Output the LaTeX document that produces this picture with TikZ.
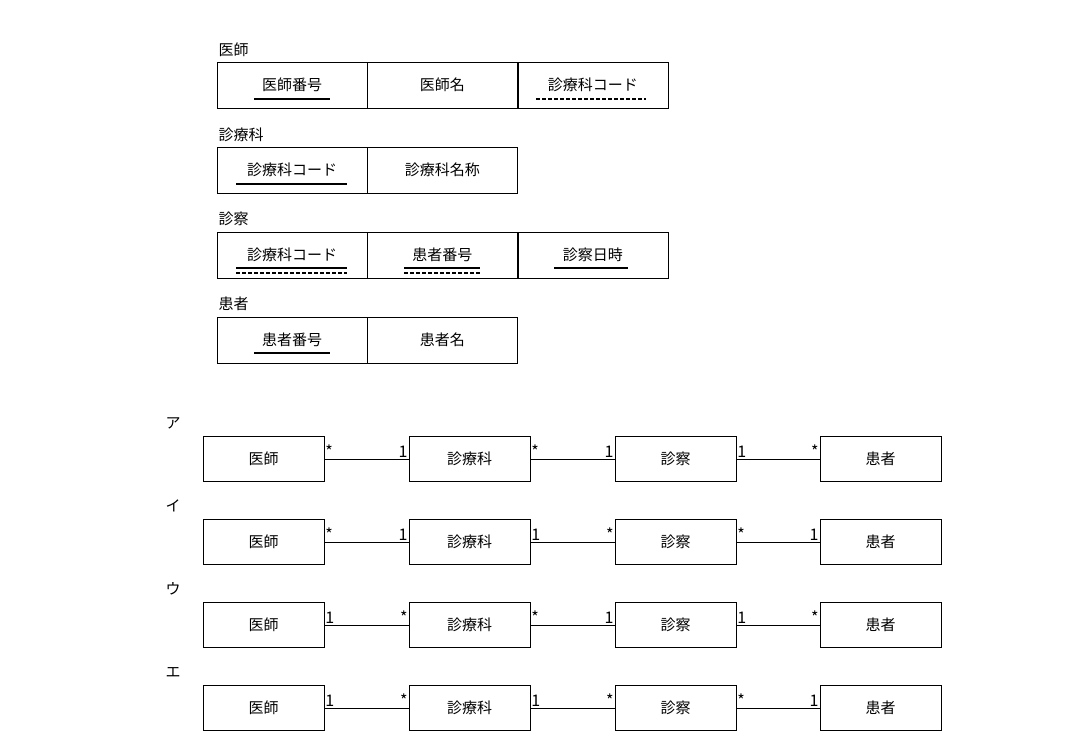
\documentclass[tikz,border=0pt]{standalone}
\usepackage{fontspec}
\setmainfont{Noto Sans CJK JP}
\usetikzlibrary{positioning}

\begin{document}
\begin{tikzpicture}[
    x=1pt, y=-1pt,
    cell/.style={draw, minimum width=150pt, minimum height=46pt, font=\fontsize{15}{18}\selectfont, inner sep=0pt},
    ent/.style={draw, minimum width=121pt, minimum height=45pt, font=\fontsize{15}{18}\selectfont, inner sep=0pt},
    title/.style={anchor=west, font=\fontsize{15}{18}\selectfont},
    mult/.style={font=\fontsize{16}{18}\selectfont, inner sep=1pt},
    pk/.style={line width=1.2pt},
    fk/.style={line width=1.2pt, dash pattern=on 4pt off 2pt}
]
    \useasboundingbox (0,0) rectangle (1074,745);
    % relations
    \node[title] (t1) at (215,50) {医師};
    \node[cell] (a1) at (292,85) {医師番号};
    \node[cell, right=0pt of a1] (a2) {医師名};
    \node[cell, right=0pt of a2] (a3) {診療科コード};
    \node[title] (t2) at (215,135) {診療科};
    \node[cell] (b1) at (292,170) {診療科コード};
    \node[cell, right=0pt of b1] (b2) {診療科名称};
    \node[title] (t3) at (215,219) {診察};
    \node[cell] (c1) at (292,255) {診療科コード};
    \node[cell, right=0pt of c1] (c2) {患者番号};
    \node[cell, right=0pt of c2] (c3) {診察日時};
    \node[title] (t4) at (215,304) {患者};
    \node[cell] (d1) at (292,340) {患者番号};
    \node[cell, right=0pt of d1] (d2) {患者名};
    % keys
    \draw[pk] (254,99) -- (330,99);
    \draw[fk] (536,99) -- (646,99);
    \draw[pk] (236,184) -- (347,184);
    \draw[pk] (236,268) -- (347,268);
    \draw[fk] (236,273) -- (347,273);
    \draw[pk] (404,268) -- (480,268);
    \draw[fk] (404,273) -- (480,273);
    \draw[pk] (554,268) -- (628,268);
    \draw[pk] (254,353) -- (330,353);
    % choices
    \foreach \lab/\y/\ma/\mb/\mc/\md/\me/\mf [count=\i] in {
        ア/459/*/1/*/1/1/*,
        イ/542/*/1/1/*/*/1,
        ウ/625/1/*/*/1/1/*,
        エ/708/1/*/1/*/*/1} {
        \node[title] (r\i) at (162,\y-36) {\lab};
        \node[ent] (p\i) at (263.5,\y) {医師};
        \node[ent] (q\i) at (469.5,\y) {診療科};
        \node[ent] (s\i) at (675.5,\y) {診察};
        \node[ent] (u\i) at (880.5,\y) {患者};
        \draw (p\i) -- (q\i);
        \draw (q\i) -- (s\i);
        \draw (s\i) -- (u\i);
        \node[mult, anchor=south west] at (p\i.east) {\ma};
        \node[mult, anchor=south east] at (q\i.west) {\mb};
        \node[mult, anchor=south west] at (q\i.east) {\mc};
        \node[mult, anchor=south east] at (s\i.west) {\md};
        \node[mult, anchor=south west] at (s\i.east) {\me};
        \node[mult, anchor=south east] at (u\i.west) {\mf};
    }
\end{tikzpicture}
\end{document}
